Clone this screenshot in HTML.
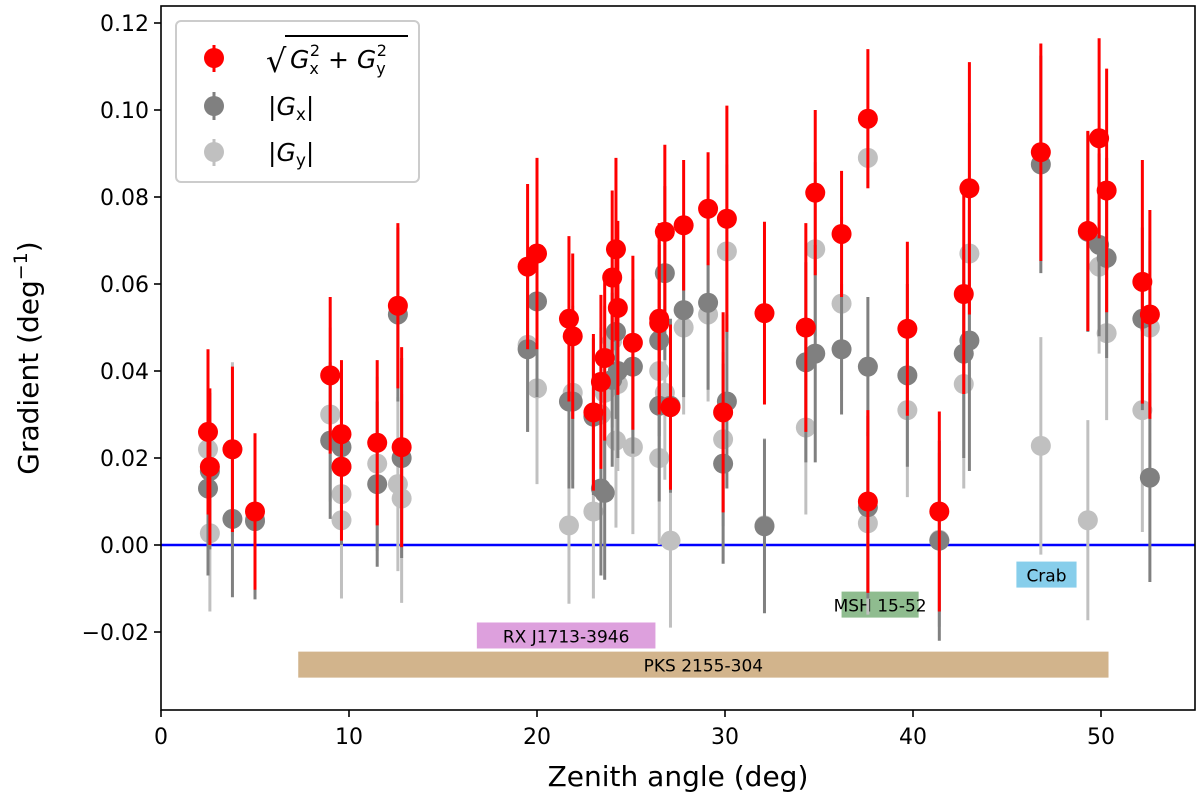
<!DOCTYPE html>
<html><head><meta charset="utf-8"><style>
html,body{margin:0;padding:0;background:#fff;}
svg{display:block;font-family:"DejaVu Sans","Liberation Sans",sans-serif;}
</style></head><body>
<svg id="chart" width="1200" height="809" viewBox="0 0 1200 809">
<g id="bands"></g>
<g id="marks"></g>
<g id="axes"></g>
<g id="legend">
 <rect x="176" y="21" width="243" height="161" rx="5" fill="#fff" fill-opacity="0.8" stroke="#ccc" stroke-width="2"/>
 <g>
  <line x1="214" y1="45" x2="214" y2="72" stroke="#f00" stroke-width="3"/><circle cx="214" cy="58" r="10" fill="#f00"/>
  <text x="266" y="72" font-size="32">√</text>
  <line x1="285" y1="36" x2="408" y2="36" stroke="#000" stroke-width="2"/>
  <text x="290" y="68" font-size="25"><tspan font-style="italic">G</tspan><tspan font-size="16" dy="6">x</tspan><tspan font-size="16" dy="-18" dx="-9">2</tspan><tspan dy="12"> + </tspan><tspan font-style="italic">G</tspan><tspan font-size="16" dy="6">y</tspan><tspan font-size="16" dy="-18" dx="-9">2</tspan></text>
 </g>
 <g>
  <line x1="214" y1="92" x2="214" y2="120" stroke="#808080" stroke-width="3"/><circle cx="214" cy="106" r="10" fill="#808080"/>
  <text x="268" y="115" font-size="25">|<tspan font-style="italic">G</tspan><tspan font-size="17" dy="5">x</tspan><tspan dy="-5">|</tspan></text>
 </g>
 <g>
  <line x1="214" y1="139" x2="214" y2="166" stroke="#c0c0c0" stroke-width="3"/><circle cx="214" cy="152" r="10" fill="#c0c0c0"/>
  <text x="268" y="161" font-size="25">|<tspan font-style="italic">G</tspan><tspan font-size="17" dy="5">y</tspan><tspan dy="-5">|</tspan></text>
 </g>
</g>
</svg>
<script>
const zenith = [2.5,2.6,3.8,5.0,9.0,9.6,9.6,11.5,12.6,12.8,19.5,20.0,21.7,21.9,23.0,23.4,23.6,24.0,24.2,24.3,25.1,26.5,26.5,26.8,27.1,27.8,29.1,29.9,30.1,32.1,34.3,34.8,36.2,37.6,37.6,39.7,41.4,42.7,43.0,46.8,49.3,49.9,50.3,52.2,52.6];
const gTot = [0.026,0.018,0.022,0.0077,0.039,0.0255,0.018,0.0235,0.055,0.0225,0.064,0.067,0.052,0.048,0.0305,0.0375,0.043,0.0615,0.068,0.0545,0.0465,0.052,0.051,0.072,0.0317,0.0735,0.0773,0.0305,0.075,0.0533,0.050,0.081,0.0715,0.098,0.010,0.0497,0.0077,0.0577,0.082,0.0903,0.0722,0.0935,0.0815,0.0605,0.053];
const gTotErr = [0.019,0.018,0.019,0.018,0.018,0.017,0.017,0.019,0.019,0.023,0.019,0.022,0.019,0.019,0.018,0.02,0.019,0.02,0.021,0.02,0.02,0.022,0.02,0.02,0.019,0.015,0.013,0.023,0.026,0.021,0.024,0.019,0.0145,0.016,0.021,0.02,0.023,0.023,0.029,0.025,0.023,0.023,0.028,0.028,0.024];
const gX = [0.013,0.017,0.006,0.0055,0.024,0.0225,0.018,0.014,0.053,0.020,0.045,0.056,0.033,0.033,0.0295,0.013,0.012,0.038,0.049,0.040,0.041,0.047,0.032,0.0625,0.032,0.054,0.0557,0.0187,0.033,0.0043,0.042,0.044,0.045,0.041,0.0087,0.039,0.001,0.044,0.047,0.0875,0.072,0.069,0.066,0.052,0.0155];
const gXErr = [0.02,0.018,0.018,0.018,0.018,0.018,0.018,0.019,0.02,0.023,0.019,0.022,0.02,0.02,0.018,0.02,0.02,0.02,0.02,0.02,0.02,0.022,0.022,0.02,0.02,0.02,0.02,0.023,0.02,0.02,0.023,0.025,0.015,0.016,0.021,0.021,0.023,0.024,0.03,0.025,0.023,0.021,0.023,0.021,0.024];
const gY = [0.022,0.0027,0.022,0.006,0.030,0.0057,0.0117,0.0187,0.014,0.0107,0.046,0.036,0.0045,0.035,0.0077,0.030,0.035,0.047,0.024,0.037,0.0225,0.040,0.020,0.035,0.001,0.050,0.053,0.0243,0.0675,0.0045,0.027,0.068,0.0555,0.089,0.005,0.031,0.0012,0.037,0.067,0.0228,0.0057,0.064,0.0487,0.031,0.050];
const gYErr = [0.02,0.018,0.02,0.018,0.02,0.018,0.018,0.02,0.02,0.024,0.02,0.022,0.018,0.02,0.02,0.02,0.02,0.02,0.02,0.02,0.02,0.02,0.02,0.02,0.02,0.02,0.02,0.02,0.02,0.02,0.02,0.02,0.02,0.007,0.021,0.02,0.02,0.024,0.03,0.025,0.023,0.02,0.02,0.028,0.02];
const bandNames = ["PKS 2155-304","RX J1713-3946","MSH 15-52","Crab"];
const bandStart = [7.3,16.8,36.2,45.5];
const bandEnd = [50.4,26.3,40.3,48.7];
const bandY = [-0.0275,-0.0208,-0.0137,-0.0068];
const bandColors = ["#d2b48c","#dda0dd","#8fbc8f","#87ceeb"];
const xTicks = [0,10,20,30,40,50];
const yTicks = [-0.02,0,0.02,0.04,0.06,0.08,0.10,0.12];
const yTickLabels = ["\u22120.02","0.00","0.02","0.04","0.06","0.08","0.10","0.12"];

const NS="http://www.w3.org/2000/svg";
const L=161,R=1195,T=6,B=710;
const X=v=>L+v*(R-L)/55;
const Y=v=>545-v*4350;
function mk(tag,attrs,parent){const e=document.createElementNS(NS,tag);for(const k in attrs)e.setAttribute(k,attrs[k]);parent.appendChild(e);return e;}
const bands=document.getElementById('bands'),marks=document.getElementById('marks'),axes=document.getElementById('axes');

for(let i=0;i<bandNames.length;i++){
  const g=mk('g',{},bands);
  
  
  mk('rect',{x:X(bandStart[i]),y:Y(bandY[i])-13,width:X(bandEnd[i])-X(bandStart[i]),height:26,fill:bandColors[i]},g);
  const t=mk('text',{x:(X(bandStart[i])+X(bandEnd[i]))/2,y:Y(bandY[i])+7,'font-size':17,'text-anchor':'middle',fill:'#000'},g);
  t.textContent=bandNames[i];
}
mk('line',{x1:L,x2:R,y1:Y(0),y2:Y(0),stroke:'#0000ff','stroke-width':2.5},marks);

function series(vals,errs,color,name){
  const g=mk('g',{},marks);
  
  
  for(let i=0;i<zenith.length;i++){
    const l=mk('line',{x1:X(zenith[i]),x2:X(zenith[i]),y1:Y(vals[i]-errs[i]),y2:Y(vals[i]+errs[i]),stroke:color,'stroke-width':3},g);
    
    
    const c=mk('circle',{cx:X(zenith[i]),cy:Y(vals[i]),r:10,fill:color},g);
    
    
  }
}
series(gY,gYErr,'#c0c0c0','gy');
series(gX,gXErr,'#808080','gx');
series(gTot,gTotErr,'#ff0000','g-total');

mk('rect',{x:L,y:T,width:R-L,height:B-T,fill:'none',stroke:'#000','stroke-width':1.6},axes);
xTicks.forEach(v=>{
  mk('line',{x1:X(v),x2:X(v),y1:B,y2:B+7,stroke:'#000','stroke-width':1.6},axes);
  const t=mk('text',{x:X(v),y:B+34,'font-size':22,'text-anchor':'middle'},axes);
  
  
  t.textContent=v;
});
yTicks.forEach((v,i)=>{
  mk('line',{x1:L-7,x2:L,y1:Y(v),y2:Y(v),stroke:'#000','stroke-width':1.6},axes);
  const t=mk('text',{x:L-12,y:Y(v)+8,'font-size':22,'text-anchor':'end'},axes);
  
  
  t.textContent=yTickLabels[i];
});
const xt=mk('text',{x:678,y:786,'font-size':28,'text-anchor':'middle'},axes);


xt.textContent='Zenith angle (deg)';
const yt=mk('text',{x:0,y:0,'font-size':28,'text-anchor':'middle',transform:'translate(38,358) rotate(-90)'},axes);


yt.textContent='Gradient (deg';
const sup=mk('tspan',{'font-size':19,dy:-11},yt);
sup.textContent='\u22121';
const cl=mk('tspan',{dy:11},yt);
cl.textContent=')';
</script>
</body></html>
